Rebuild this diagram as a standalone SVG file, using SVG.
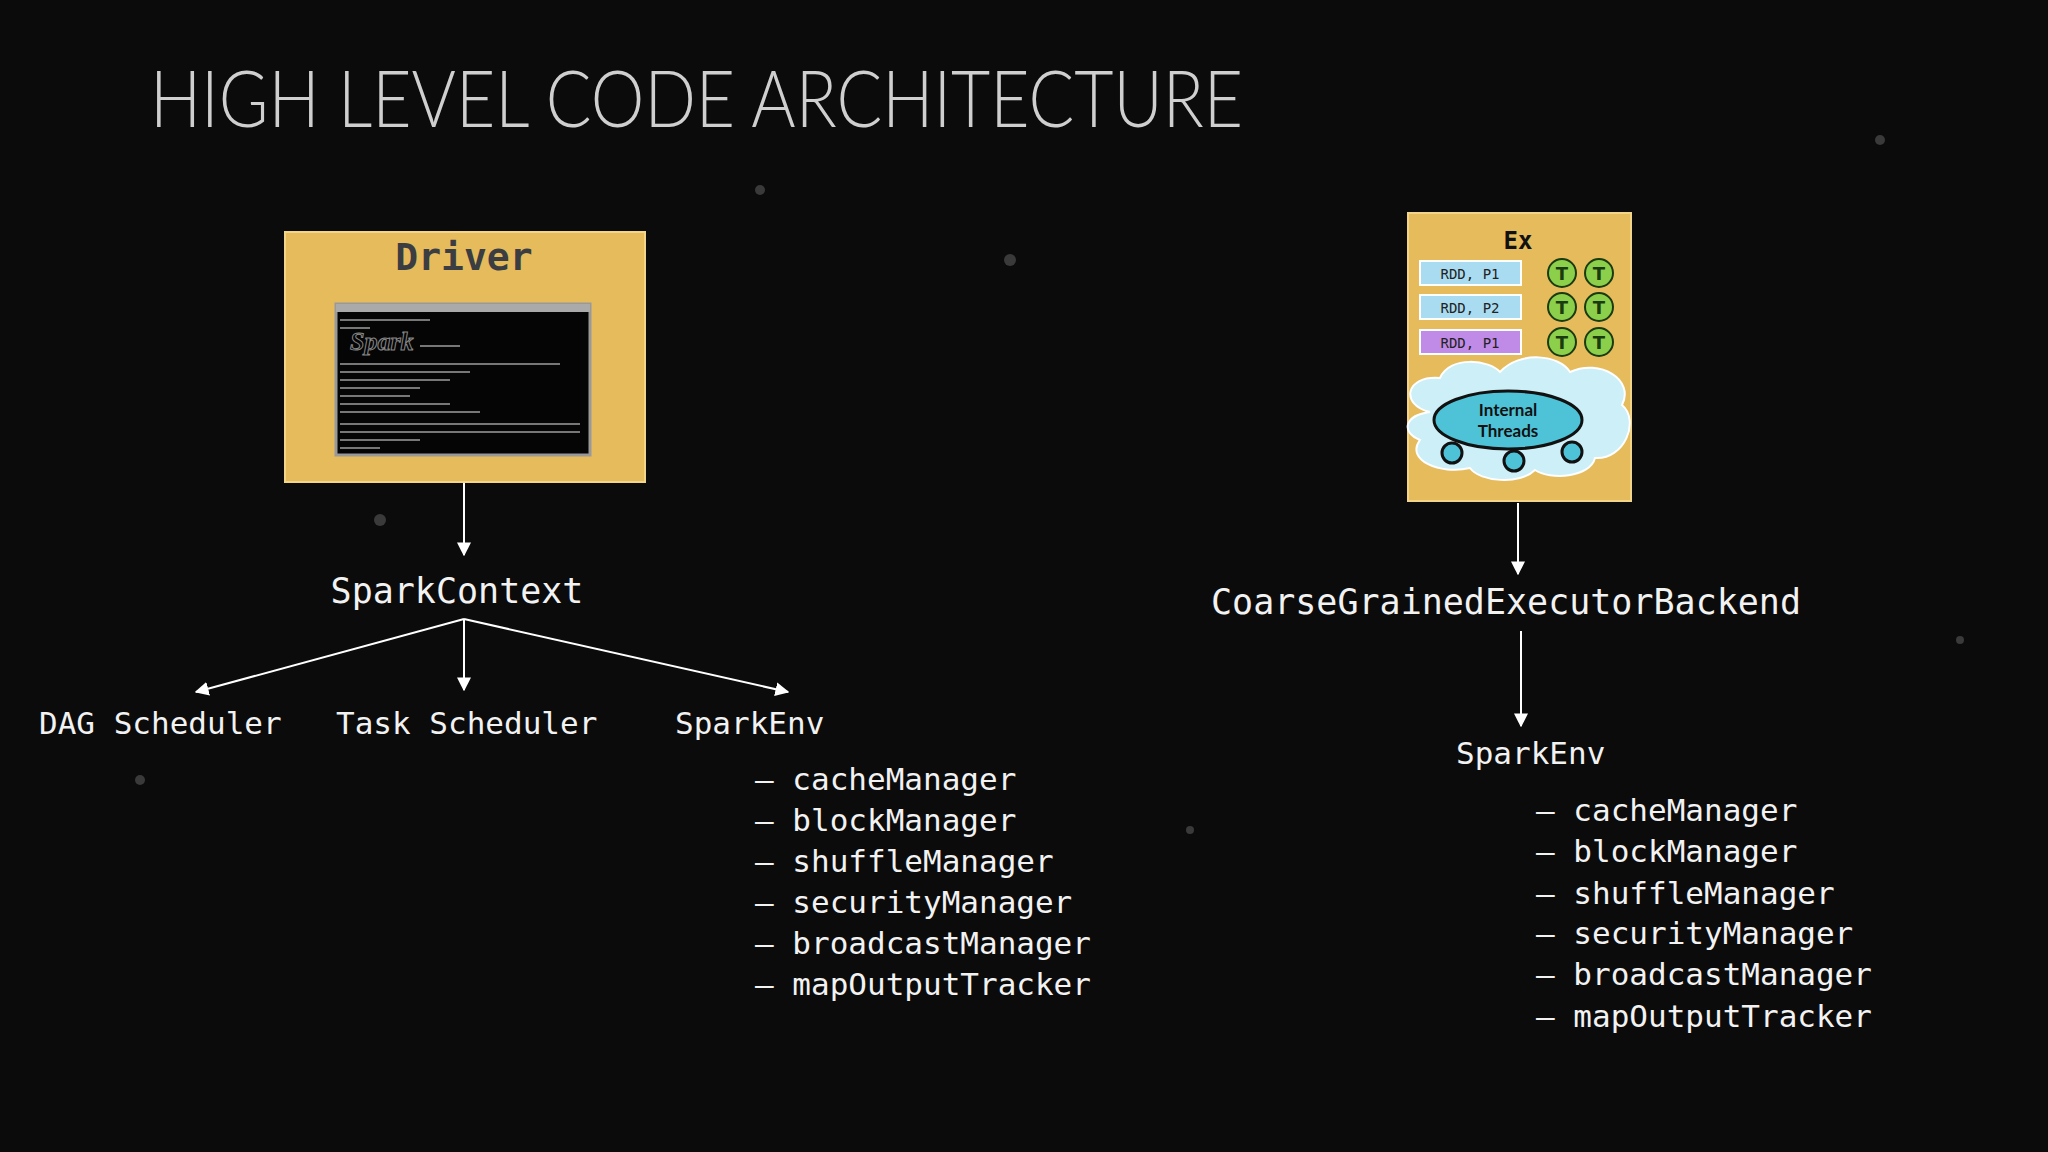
<svg xmlns="http://www.w3.org/2000/svg" width="2048" height="1152" viewBox="0 0 2048 1152">
<defs>
<marker id="ah" viewBox="0 0 10 10" refX="9" refY="5" markerWidth="7" markerHeight="7" orient="auto"><path d="M0,0 L10,5 L0,10 z" fill="#fff"/></marker>
<style>
.m{font-family:"DejaVu Sans Mono","Liberation Mono",monospace;fill:#f2f2f2}
.l{font-size:31px}
.c line{stroke:#fff;stroke-width:2;marker-end:url(#ah)}
.rdd{stroke:#fff;stroke-width:2}
.rt{font-family:"DejaVu Sans Mono",monospace;font-size:14px;fill:#222}
.t{fill:#8ccf4a;stroke:#1a3a10;stroke-width:2}
.tt{font-family:"DejaVu Sans",sans-serif;font-size:18px;font-weight:bold;fill:#1a3a10}
.tl{stroke:#777;stroke-width:2}
</style>
</defs>
<rect width="2048" height="1152" fill="#0b0b0b"/>
<g fill="#3a3a3a">
<circle cx="380" cy="520" r="6"/><circle cx="760" cy="190" r="5"/><circle cx="1010" cy="260" r="6"/><circle cx="1880" cy="140" r="5"/><circle cx="1190" cy="830" r="4"/><circle cx="140" cy="780" r="5"/><circle cx="1960" cy="640" r="4"/>
</g>
<text x="150" y="127" font-family="Lato, 'Open Sans', sans-serif" font-weight="300" font-size="78" fill="#cfcfcf" textLength="1093" lengthAdjust="spacingAndGlyphs">HIGH LEVEL CODE ARCHITECTURE</text>

<g id="driver">
<rect x="285" y="232" width="360" height="250" fill="#e6bb5c" stroke="#f3d58a" stroke-width="2"/>
<text x="464" y="270" text-anchor="middle" font-family="DejaVu Sans Mono,monospace" font-weight="bold" font-size="38" fill="#3a3d42">Driver</text>
<rect x="336" y="304" width="254" height="151" fill="#050505" stroke="#999" stroke-width="3"/>
<rect x="336" y="304" width="254" height="8" fill="#aaa"/>
<g class="tl">
<line x1="340" y1="320" x2="430" y2="320"/><line x1="340" y1="328" x2="370" y2="328"/>
<line x1="420" y1="346" x2="460" y2="346"/>
<line x1="340" y1="364" x2="560" y2="364"/><line x1="340" y1="372" x2="470" y2="372"/><line x1="340" y1="380" x2="450" y2="380"/><line x1="340" y1="388" x2="420" y2="388"/><line x1="340" y1="396" x2="410" y2="396"/><line x1="340" y1="404" x2="450" y2="404"/><line x1="340" y1="412" x2="480" y2="412"/>
<line x1="340" y1="424" x2="580" y2="424"/><line x1="340" y1="432" x2="580" y2="432"/><line x1="340" y1="440" x2="420" y2="440"/><line x1="340" y1="448" x2="380" y2="448"/>
</g>
<text x="350" y="350" font-family="Liberation Serif,serif" font-style="italic" font-weight="bold" font-size="26" fill="none" stroke="#888" stroke-width="1">Spark</text>
</g>

<g id="executor">
<rect x="1408" y="213" width="223" height="288" fill="#e6bb5c" stroke="#f3d58a" stroke-width="2"/>
<text x="1518" y="249" text-anchor="middle" font-family="DejaVu Sans Mono,monospace" font-weight="bold" font-size="24" fill="#111">Ex</text>
<rect class="rdd" x="1420" y="261" width="101" height="24" fill="#a9dcf0"/>
<text class="rt" x="1470" y="279" text-anchor="middle">RDD, P1</text>
<rect class="rdd" x="1420" y="295" width="101" height="24" fill="#a9dcf0"/>
<text class="rt" x="1470" y="313" text-anchor="middle">RDD, P2</text>
<rect class="rdd" x="1420" y="330" width="101" height="24" fill="#c08be6"/>
<text class="rt" x="1470" y="348" text-anchor="middle">RDD, P1</text>
<circle class="t" cx="1562" cy="273" r="14"/><circle class="t" cx="1599" cy="273" r="14"/>
<circle class="t" cx="1562" cy="307" r="14"/><circle class="t" cx="1599" cy="307" r="14"/>
<circle class="t" cx="1562" cy="342" r="14"/><circle class="t" cx="1599" cy="342" r="14"/>
<g class="tt" text-anchor="middle">
<text x="1562" y="280">T</text><text x="1599" y="280">T</text>
<text x="1562" y="314">T</text><text x="1599" y="314">T</text>
<text x="1562" y="349">T</text><text x="1599" y="349">T</text>
</g>
<path d="M1430,412 C1400,405 1405,375 1440,378 C1450,355 1490,360 1500,372 C1520,350 1560,355 1570,372 C1600,358 1635,380 1622,405 C1640,420 1625,460 1595,458 C1590,478 1550,480 1535,470 C1520,485 1480,482 1470,468 C1440,475 1405,460 1420,440 C1400,432 1405,415 1430,412 Z" fill="#cdeff7" stroke="#fff" stroke-width="2"/>
<ellipse cx="1508" cy="420" rx="74" ry="29" fill="#4ec3d8" stroke="#111" stroke-width="3"/>
<text x="1508" y="416" text-anchor="middle" font-family="Lato,sans-serif" font-size="17" font-weight="bold" fill="#111">Internal</text>
<text x="1508" y="437" text-anchor="middle" font-family="Lato,sans-serif" font-size="17" font-weight="bold" fill="#111">Threads</text>
<circle cx="1452" cy="453" r="10" fill="#4ec3d8" stroke="#111" stroke-width="3"/>
<circle cx="1514" cy="461" r="10" fill="#4ec3d8" stroke="#111" stroke-width="3"/>
<circle cx="1572" cy="452" r="10" fill="#4ec3d8" stroke="#111" stroke-width="3"/>
</g>

<g class="c" id="connectors">
<line x1="464" y1="483" x2="464" y2="555"/>
<line x1="464" y1="619" x2="196" y2="692"/>
<line x1="464" y1="619" x2="464" y2="690"/>
<line x1="464" y1="619" x2="788" y2="692"/>
<line x1="1518" y1="503" x2="1518" y2="574"/>
<line x1="1521" y1="631" x2="1521" y2="726"/>
</g>

<g id="sparkcontext"><text class="m" x="457" y="603" text-anchor="middle" font-size="35">SparkContext</text></g>
<g id="dag"><text class="m l" x="39" y="734">DAG Scheduler</text></g>
<g id="task"><text class="m l" x="336" y="734">Task Scheduler</text></g>
<g id="sparkenv1"><text class="m l" x="675" y="734">SparkEnv</text></g>
<g id="list1" class="m l">
<text x="755" y="790">– cacheManager</text>
<text x="755" y="831">– blockManager</text>
<text x="755" y="872">– shuffleManager</text>
<text x="755" y="913">– securityManager</text>
<text x="755" y="954">– broadcastManager</text>
<text x="755" y="995">– mapOutputTracker</text>
</g>
<g id="coarse"><text class="m" x="1506" y="614" text-anchor="middle" font-size="35">CoarseGrainedExecutorBackend</text></g>
<g id="sparkenv2"><text class="m l" x="1456" y="764">SparkEnv</text></g>
<g id="list2" class="m l">
<text x="1536" y="821">– cacheManager</text>
<text x="1536" y="862">– blockManager</text>
<text x="1536" y="904">– shuffleManager</text>
<text x="1536" y="944">– securityManager</text>
<text x="1536" y="985">– broadcastManager</text>
<text x="1536" y="1027">– mapOutputTracker</text>
</g>
</svg>
